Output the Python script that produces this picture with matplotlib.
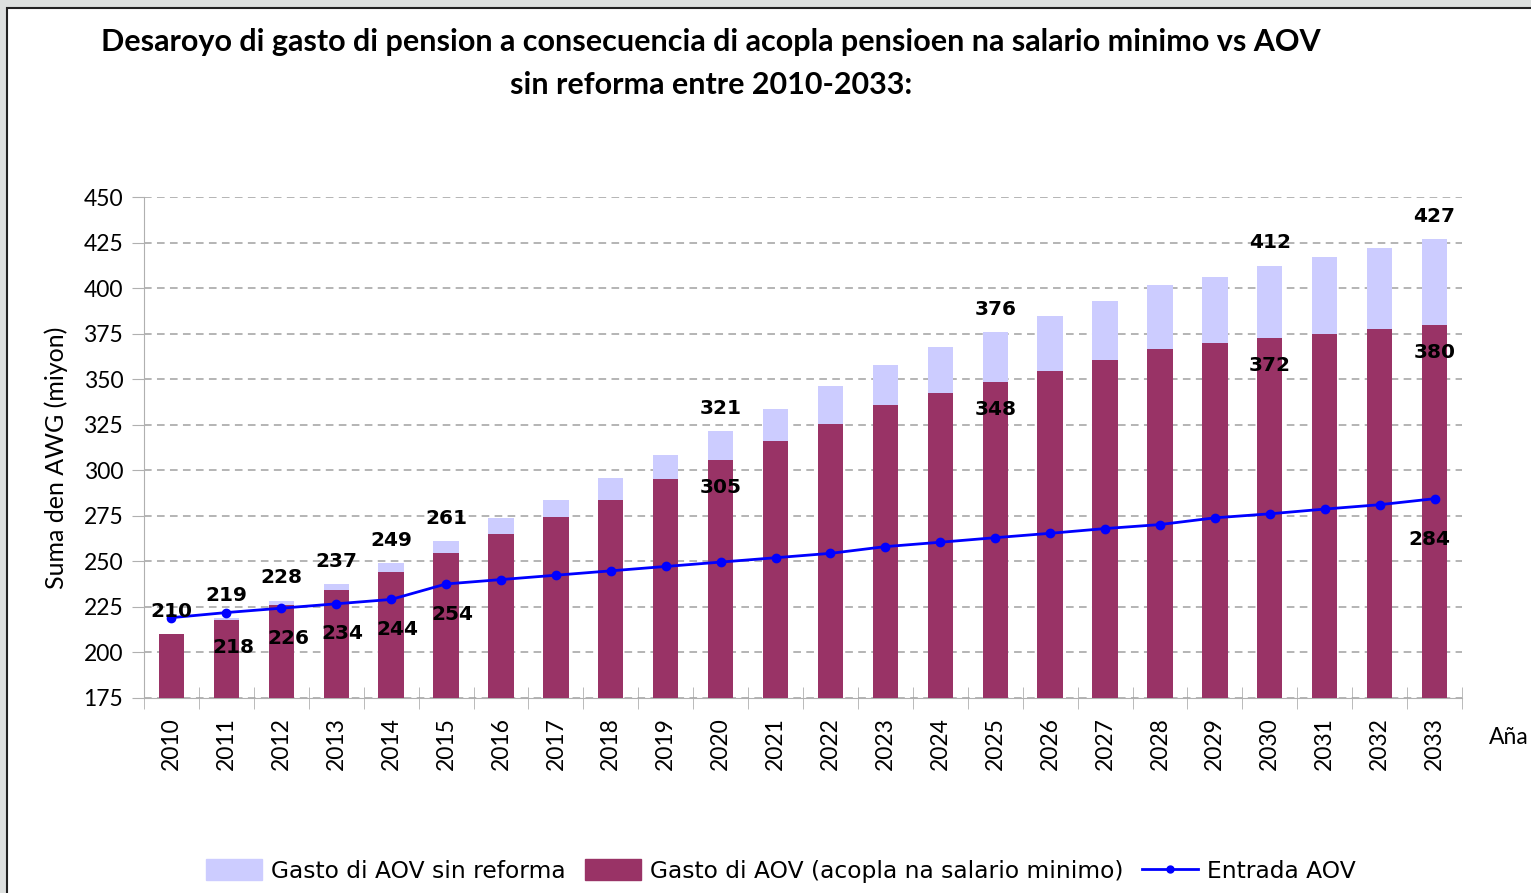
import numpy as np
import matplotlib.pyplot as plt
from matplotlib.patches import Rectangle
from matplotlib.lines import Line2D

years = list(range(2010, 2034))
sin_reforma = [210, 219, 228.4, 237.4, 249, 261, 273.7, 283.9, 295.8, 308.4, 321.4, 333.7,
               346.1, 358.0, 367.8, 376, 384.8, 393.0, 401.7, 406.1, 412.4, 417.1, 422.1, 427]
acopla = [210.4, 217.8, 226, 234.4, 244.4, 254.4, 264.8, 274.6, 283.9, 295.4, 305.4, 315.8,
          325.6, 336.0, 342.6, 348.2, 354.7, 360.6, 366.7, 370.1, 372.4, 374.8, 377.6, 379.8]
entrada = [219.1, 221.9, 224.3, 226.7, 229.1, 237.6, 240.0, 242.4, 244.8, 247.2, 249.6, 252.0,
           254.4, 258.1, 260.5, 263.0, 265.4, 268.0, 270.2, 273.9, 276.1, 278.7, 281.1, 284.4]

# which points get a data label (as in the original)
lbl_sin = [2010, 2011, 2012, 2013, 2014, 2015, 2020, 2025, 2030, 2033]
lbl_aco = [2011, 2012, 2013, 2014, 2015, 2020, 2025, 2030, 2033]
lbl_ent = [2033]

light = '#CCCCFF'
dark = '#993366'
blue = '#0000FF'

fig = plt.figure(figsize=(15.31, 8.93), dpi=100)
fig.patch.set_facecolor('#dde0df')
fig.patches.append(Rectangle((7 / 1531, -0.1), 1.2, (893 - 8) / 893 + 0.1,
                             transform=fig.transFigure, facecolor='white',
                             edgecolor='#222222', linewidth=1.5, zorder=-5))

ax = fig.add_axes([144 / 1531, 195 / 893, (1462 - 144) / 1531, (698 - 197) / 893])
ax.set_zorder(2)
x = np.arange(len(years))

ax.bar(x, sin_reforma, width=0.46, color=light, zorder=2)
ax.bar(x, acopla, width=0.46, color=dark, zorder=3)
ax.plot(x, entrada, color=blue, lw=2, marker='o', ms=6, zorder=4)

ax.set_xlim(-0.5, len(years) - 0.5)
ax.set_ylim(175, 450)
ax.set_yticks(np.arange(175, 451, 25))
ax.yaxis.grid(True, linestyle=(0, (5, 3.5)), color='#a0a0a0', lw=1.1, zorder=1)
ax.set_axisbelow(True)

ax.set_xticks(x)
ax.set_xticklabels(years, rotation=90, fontsize=16.5, family='Lato')
ax.set_xticks(np.arange(-0.5, len(years), 1), minor=True)
ax.tick_params(axis='x', which='major', length=0, pad=14)
ax.tick_params(axis='x', which='minor', length=16, direction='inout', color='#b0b0b0')
ax.tick_params(axis='y', length=9, color='#b0b0b0', labelsize=16.5, pad=6)
for t in ax.get_yticklabels():
    t.set_family('Lato')

for s in ['top', 'right']:
    ax.spines[s].set_visible(False)
ax.spines['left'].set_color('#b0b0b0')
ax.spines['bottom'].set_color('#b0b0b0')

ax.set_ylabel('Suma den AWG (miyon)', fontsize=18, family='Lato', labelpad=11)
ax.yaxis.label.set_y(0.48)

lf = dict(fontsize=14.5, fontweight='bold', family='DejaVu Sans', ha='center', va='center', zorder=5)
for yr in lbl_sin:
    i = years.index(yr)
    ax.text(i, sin_reforma[i] + 12.5, f'{sin_reforma[i]:.0f}', **lf)
for yr in lbl_aco:
    i = years.index(yr)
    yy = acopla[i] - 15
    if abs(yy - entrada[i]) < 14:
        yy = entrada[i] - 16.5
    ax.text(i + 0.12 * (i < 6), yy, f'{acopla[i]:.0f}', **lf)
for yr in lbl_ent:
    i = years.index(yr)
    ax.text(i - 0.1, entrada[i] - 22.5, f'{entrada[i]:.0f}', **lf)

fig.text(1489 / 1531, 1 - 737 / 893, 'Aña', fontsize=16.5, family='Lato', va='center', ha='left')

fig.text(711 / 1531, 1 - 42 / 893,
         'Desaroyo di gasto di pension a consecuencia di acopla pensioen na salario minimo vs AOV',
         fontsize=22, fontweight='bold', family='Lato', ha='center', va='center')
fig.text(711 / 1531, 1 - 85 / 893, 'sin reforma entre 2010-2033:',
         fontsize=22, fontweight='bold', family='Lato', ha='center', va='center')

handles = [Rectangle((0, 0), 1, 1, color=light),
           Rectangle((0, 0), 1, 1, color=dark),
           Line2D([0], [0], color=blue, lw=2, marker='o', ms=5)]
labels = ['Gasto di AOV sin reforma', 'Gasto di AOV (acopla na salario minimo)', 'Entrada AOV']
fig.legend(handles, labels, loc='center', bbox_to_anchor=(781 / 1531, 1 - 871 / 893),
           ncol=3, frameon=False, prop={'family': 'DejaVu Sans', 'size': 16.8},
           handlelength=2.4, handleheight=1.0, handletextpad=0.4, columnspacing=0.8)

fig.savefig('out.png', dpi=100, facecolor=fig.get_facecolor())
